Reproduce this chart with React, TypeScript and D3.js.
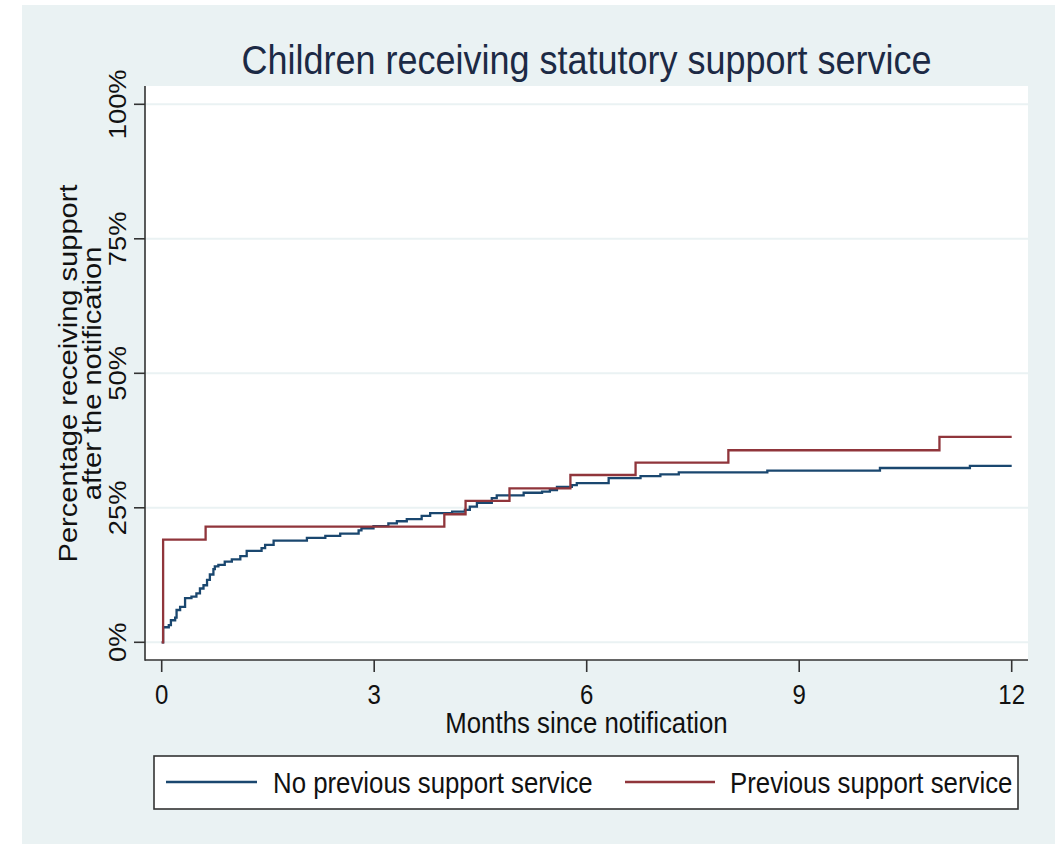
import React from "react";
import * as d3 from "d3";

// Cumulative share of children receiving statutory support, by months since notification
const noPrevMonths = [0, 0.02, 0.10, 0.13, 0.19, 0.21, 0.26, 0.33, 0.42, 0.49, 0.54, 0.59, 0.64, 0.68, 0.73, 0.75, 0.80, 0.89, 0.99, 1.11, 1.20, 1.41, 1.46, 1.58, 2.05, 2.31, 2.52, 2.78, 2.82, 2.99, 3.20, 3.32, 3.46, 3.67, 3.79, 4.10, 4.28, 4.35, 4.45, 4.66, 4.73, 5.11, 5.37, 5.48, 5.58, 5.79, 5.86, 6.31, 6.76, 7.04, 7.30, 8.55, 10.14, 11.41, 12];
const noPrevPct = [0, 2.8, 3.2, 4.1, 4.6, 6.0, 6.6, 8.2, 8.5, 9.1, 10.0, 10.6, 11.6, 12.6, 13.6, 14.1, 14.4, 15.0, 15.4, 16.0, 17.0, 17.5, 18.1, 18.9, 19.4, 19.8, 20.2, 20.8, 21.2, 21.6, 22.1, 22.5, 22.9, 23.5, 24.0, 24.3, 24.6, 25.2, 25.9, 26.8, 27.3, 27.8, 28.0, 28.3, 28.9, 29.2, 29.6, 30.5, 30.9, 31.2, 31.6, 31.9, 32.4, 32.8, 32.8];

const prevMonths = [0, 0.02, 0.62, 3.99, 4.29, 4.91, 5.77, 6.69, 8.0, 10.98, 12];
const prevPct = [0, 19.1, 21.5, 23.8, 26.3, 28.6, 31.1, 33.4, 35.7, 38.2, 38.2];

const xTicks = [0, 3, 6, 9, 12];
const yTicks = [0, 25, 50, 75, 100];

const seriesNames = ["No previous support service", "Previous support service"];
const seriesColors = ["#1a476f", "#90353b"];

const titleText = "Children receiving statutory support service";
const xTitle = "Months since notification";
const yTitleLines = ["Percentage receiving support", "after the notification"];

const FONT = "Arial, 'Liberation Sans', Helvetica, sans-serif";
const SY = 1.14; // vertical stretch applied to all text

type LabelProps = {
  x: number;
  y: number;
  size: number;
  anchor?: "start" | "middle" | "end";
  rotate?: number;
  fill?: string;
  children: React.ReactNode;
};

function Label({ x, y, size, anchor = "start", rotate = 0, fill = "#111", children }: LabelProps) {
  return (
    <text
      transform={`translate(${x},${y}) scale(1,${SY}) rotate(${rotate})`}
      fontSize={size}
      fontFamily={FONT}
      textAnchor={anchor}
      fill={fill}
    >
      {children}
    </text>
  );
}

export default function App() {
  const W = 1063;
  const H = 844;
  const plot = { left: 145, right: 1028, top: 86, bottom: 660 };

  const x = d3.scaleLinear().domain([0, 12]).range([161.7, 1011.7]);
  const y = d3.scaleLinear().domain([0, 100]).range([642.3, 104.3]);

  const line = d3
    .line<[number, number]>()
    .x((d) => x(d[0]))
    .y((d) => y(d[1]))
    .curve(d3.curveStepAfter);

  const noPrev: [number, number][] = noPrevMonths.map((m, i) => [m, noPrevPct[i]]);
  const prev: [number, number][] = prevMonths.map((m, i) => [m, prevPct[i]]);

  const legend = { x: 154, y: 756, w: 864, h: 53 };
  const legendItems = [
    { x0: 166, x1: 257, tx: 273 },
    { x0: 625, x1: 715, tx: 730 },
  ];

  return (
    <svg
      width={W}
      height={H}
      viewBox={`0 0 ${W} ${H}`}
      style={{ position: "absolute", left: 0, top: 0, background: "#fff" }}
    >
      {/* graph region */}
      <rect x={22} y={5} width={1033} height={H - 5} fill="#eaf2f3" />
      {/* plot region */}
      <rect
        x={plot.left}
        y={plot.top}
        width={plot.right - plot.left}
        height={plot.bottom - plot.top}
        fill="#ffffff"
      />

      {/* horizontal grid */}
      {yTicks.map((t) => (
        <line
          key={`g${t}`}
          x1={plot.left}
          x2={plot.right}
          y1={y(t)}
          y2={y(t)}
          stroke="#eaf2f3"
          strokeWidth={2}
        />
      ))}

      {/* survival-style step curves */}
      <path d={line(noPrev) ?? ""} fill="none" stroke={seriesColors[0]} strokeWidth={2.3} />
      <path d={line(prev) ?? ""} fill="none" stroke={seriesColors[1]} strokeWidth={2.3} />

      {/* axes */}
      <line x1={plot.left} x2={plot.left} y1={plot.top} y2={plot.bottom + 0.75} stroke="#333" strokeWidth={1.6} />
      <line x1={plot.left} x2={plot.right} y1={plot.bottom} y2={plot.bottom} stroke="#333" strokeWidth={1.6} />

      {yTicks.map((t) => (
        <g key={`yt${t}`}>
          <line x1={134} x2={plot.left} y1={y(t)} y2={y(t)} stroke="#333" strokeWidth={1.6} />
          <Label x={126} y={y(t)} size={24} anchor="middle" rotate={-90}>
            {`${t}%`}
          </Label>
        </g>
      ))}

      {xTicks.map((t) => (
        <g key={`xt${t}`}>
          <line x1={x(t)} x2={x(t)} y1={plot.bottom} y2={672} stroke="#333" strokeWidth={1.6} />
          <Label x={x(t)} y={704} size={24} anchor="middle">
            {t}
          </Label>
        </g>
      ))}

      {/* axis titles */}
      <Label x={586.5} y={733} size={25.8} anchor="middle">
        {xTitle}
      </Label>
      {yTitleLines.map((s, i) => (
        <Label key={s} x={77 + i * 24} y={373.5} size={25.5} anchor="middle" rotate={-90}>
          {s}
        </Label>
      ))}

      {/* title */}
      <Label x={586.5} y={74} size={36} anchor="middle" fill="#1c2a45">
        {titleText}
      </Label>

      {/* legend */}
      <rect
        x={legend.x}
        y={legend.y}
        width={legend.w}
        height={legend.h}
        fill="#ffffff"
        stroke="#333"
        strokeWidth={1.6}
      />
      {legendItems.map((it, i) => (
        <g key={seriesNames[i]}>
          <line x1={it.x0} x2={it.x1} y1={782} y2={782} stroke={seriesColors[i]} strokeWidth={2.3} />
          <Label x={it.tx} y={793} size={25.8}>
            {seriesNames[i]}
          </Label>
        </g>
      ))}
    </svg>
  );
}
